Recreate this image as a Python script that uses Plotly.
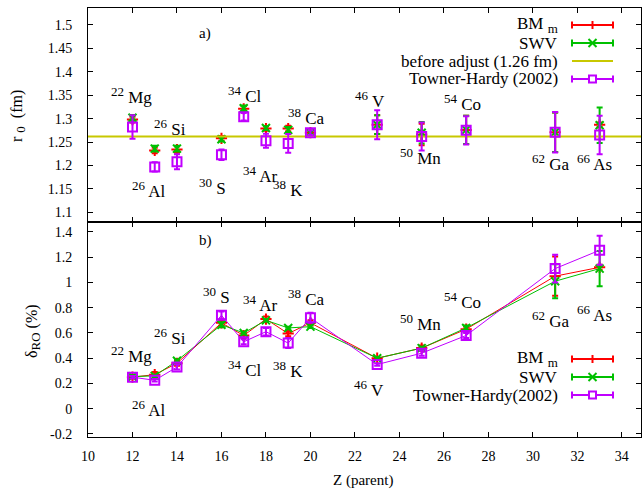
import plotly.graph_objects as go
from plotly.subplots import make_subplots

# ---------------- data ----------------
Z = [12, 13, 14, 16, 17, 18, 19, 20, 23, 25, 27, 31, 33]
nuclide_mass = ["22", "26", "26", "30", "34", "34", "38", "38", "46", "50", "54", "62", "66"]
nuclide_sym = ["Mg", "Al", "Si", "S", "Cl", "Ar", "K", "Ca", "V", "Mn", "Co", "Ga", "As"]

# panel a) r0 (fm)
r0_BM = [1.298, 1.232, 1.234, 1.258, 1.321, 1.279, 1.279, 1.270, 1.287, 1.266, 1.276, 1.271, 1.287]
r0_BM_err = [0.006, 0.006, 0.007, 0.005, 0.006, 0.005, 0.006, 0.004, 0.020, 0.023, 0.030, 0.042, 0.005]
r0_SWV = [1.302, 1.236, 1.236, 1.256, 1.322, 1.280, 1.276, 1.270, 1.287, 1.270, 1.276, 1.271, 1.286]
r0_SWV_err = [0.006, 0.006, 0.006, 0.005, 0.006, 0.004, 0.006, 0.004, 0.020, 0.023, 0.030, 0.042, 0.038]
r0_TH = [1.282, 1.197, 1.208, 1.223, 1.304, 1.253, 1.247, 1.270, 1.287, 1.262, 1.275, 1.271, 1.265]
r0_TH_err = [0.025, 0.010, 0.016, 0.011, 0.008, 0.015, 0.020, 0.005, 0.031, 0.030, 0.030, 0.043, 0.041]
r0_before = 1.262

# panel b) delta_RO (%)
d_BM = [0.25, 0.27, 0.36, 0.68, 0.58, 0.71, 0.595, 0.68, 0.40, 0.48, 0.63, 1.05, 1.12]
d_BM_err = [0.01, 0.02, 0.02, 0.02, 0.02, 0.02, 0.02, 0.02, 0.01, 0.02, 0.02, 0.155, 0.02]
d_SWV = [0.255, 0.26, 0.38, 0.665, 0.60, 0.70, 0.64, 0.65, 0.40, 0.48, 0.64, 1.01, 1.11]
d_SWV_err = [0.01, 0.01, 0.01, 0.02, 0.01, 0.01, 0.01, 0.01, 0.01, 0.01, 0.02, 0.135, 0.14]
d_TH = [0.25, 0.225, 0.33, 0.74, 0.53, 0.61, 0.52, 0.72, 0.35, 0.44, 0.58, 1.11, 1.255]
d_TH_err = [0.01, 0.01, 0.02, 0.03, 0.02, 0.03, 0.04, 0.04, 0.01, 0.02, 0.02, 0.11, 0.115]

# label positions (data coords) for nuclide names
lab_a_x = [11.95, 12.75, 13.67, 15.58, 17.05, 17.74, 18.98, 19.8, 22.68, 24.93, 26.82, 30.82, 32.77]
lab_a_y = [1.350, 1.148, 1.281, 1.155, 1.351, 1.180, 1.152, 1.304, 1.340, 1.219, 1.334, 1.206, 1.206]
lab_b_x = [11.95, 12.75, 13.67, 15.76, 17.05, 17.74, 19.0, 19.8, 22.64, 24.93, 26.82, 30.82, 32.77]
lab_b_y = [0.426, 0.0, 0.573, 0.893, 0.32, 0.834, 0.31, 0.88, 0.16, 0.68, 0.86, 0.706, 0.754]

X_RANGE = [10, 34.86]
YA_RANGE = [1.0795, 1.536]
YB_RANGE = [-0.224, 1.479]
x_ticks = list(range(10, 35, 2))
ya_ticks = [1.1, 1.15, 1.2, 1.25, 1.3, 1.35, 1.4, 1.45, 1.5]
ya_ticktext = ["1.1", "1.15", "1.2", "1.25", "1.3", "1.35", "1.4", "1.45", "1.5"]
yb_ticks = [-0.2, 0, 0.2, 0.4, 0.6, 0.8, 1.0, 1.2, 1.4]
yb_ticktext = ["-0.2", "0", "0.2", "0.4", "0.6", "0.8", "1", "1.2", "1.4"]

RED = "#ff0000"
GREEN = "#00c000"
PURPLE = "#c000ff"
YELLOW = "#c8c800"
FONT = "Liberation Serif"

# ---------------- geometry ----------------
W, H = 642, 489
PL, PR, PT, PB = 88, 641, 8, 437
SEP = 222


def px(xp):
    return (xp - PL) / (PR - PL)


def py(yp):
    return (PB - yp) / (PB - PT)


fig = make_subplots(rows=2, cols=1, shared_xaxes=True, vertical_spacing=0,
                    row_heights=[SEP - PT, PB - SEP])


def err(e):
    return dict(type="data", array=e, visible=True, thickness=2, width=3)


# panel a
fig.add_trace(go.Scatter(x=Z, y=r0_BM, mode="markers", name="BM m",
                         marker=dict(symbol="cross-thin-open", size=8, color=RED, line=dict(color=RED, width=2)),
                         error_y=dict(err(r0_BM_err), color=RED)), row=1, col=1)
fig.add_trace(go.Scatter(x=Z, y=r0_SWV, mode="markers", name="SWV",
                         marker=dict(symbol="x-thin-open", size=8, color=GREEN, line=dict(color=GREEN, width=2)),
                         error_y=dict(err(r0_SWV_err), color=GREEN)), row=1, col=1)
fig.add_trace(go.Scatter(x=X_RANGE, y=[r0_before, r0_before], mode="lines", name="before adjust (1.26 fm)",
                         line=dict(color=YELLOW, width=2)), row=1, col=1)
fig.add_trace(go.Scatter(x=Z, y=r0_TH, mode="markers", name="Towner-Hardy (2002)",
                         marker=dict(symbol="square-open", size=9, color=PURPLE, line=dict(color=PURPLE, width=2)),
                         error_y=dict(err(r0_TH_err), color=PURPLE)), row=1, col=1)

# panel b
fig.add_trace(go.Scatter(x=Z, y=d_BM, mode="lines+markers", name="BM m",
                         line=dict(color=RED, width=1),
                         marker=dict(symbol="cross-thin-open", size=8, color=RED, line=dict(color=RED, width=2)),
                         error_y=dict(err(d_BM_err), color=RED)), row=2, col=1)
fig.add_trace(go.Scatter(x=Z, y=d_SWV, mode="lines+markers", name="SWV",
                         line=dict(color=GREEN, width=1),
                         marker=dict(symbol="x-thin-open", size=8, color=GREEN, line=dict(color=GREEN, width=2)),
                         error_y=dict(err(d_SWV_err), color=GREEN)), row=2, col=1)
fig.add_trace(go.Scatter(x=Z, y=d_TH, mode="lines+markers", name="Towner-Hardy(2002)",
                         line=dict(color=PURPLE, width=1),
                         marker=dict(symbol="square-open", size=9, color=PURPLE, line=dict(color=PURPLE, width=2)),
                         error_y=dict(err(d_TH_err), color=PURPLE)), row=2, col=1)

axis_common = dict(showline=True, linecolor="black", linewidth=1, mirror="ticks",
                   ticks="inside", ticklen=5, tickcolor="black", tickwidth=1,
                   showgrid=False, zeroline=False,
                   tickfont=dict(family=FONT, size=14, color="black"))

fig.update_xaxes(range=X_RANGE, tickvals=x_ticks, **axis_common)
fig.update_xaxes(showticklabels=False, row=1, col=1)
fig.update_xaxes(ticklabelstandoff=6, row=2, col=1)
fig.update_yaxes(range=YA_RANGE, tickvals=ya_ticks, ticktext=ya_ticktext, ticklabelstandoff=12,
                 row=1, col=1, **axis_common)
fig.update_yaxes(range=YB_RANGE, tickvals=yb_ticks, ticktext=yb_ticktext, ticklabelstandoff=12,
                 row=2, col=1, **axis_common)

annots = []
for i in range(len(Z)):
    label = "<sup><span style='font-size:13px'>%s</span></sup> %s" % (nuclide_mass[i], nuclide_sym[i])
    annots.append(dict(x=lab_a_x[i], y=lab_a_y[i], xref="x", yref="y", text=label, showarrow=False,
                       xanchor="center", yanchor="middle", font=dict(family=FONT, size=17, color="black")))
    annots.append(dict(x=lab_b_x[i], y=lab_b_y[i], xref="x2", yref="y2", text=label, showarrow=False,
                       xanchor="center", yanchor="middle", font=dict(family=FONT, size=17, color="black")))

annots.append(dict(x=px(205), y=py(34), xref="paper", yref="paper", text="a)", showarrow=False,
                   xanchor="center", yanchor="middle", font=dict(family=FONT, size=15, color="black")))
annots.append(dict(x=px(205), y=py(241), xref="paper", yref="paper", text="b)", showarrow=False,
                   xanchor="center", yanchor="middle", font=dict(family=FONT, size=15, color="black")))

# axis titles
annots.append(dict(x=px(18), y=py(116), xref="paper", yref="paper",
                   text="r <sub><span style='font-size:13px'>0</span></sub>  (fm)",
                   textangle=-90, showarrow=False, xanchor="center", yanchor="middle",
                   font=dict(family=FONT, size=16, color="black")))
annots.append(dict(x=px(33), y=py(331), xref="paper", yref="paper",
                   text="δ<sub><span style='font-size:13px'>RO</span></sub> (%)",
                   textangle=-90, showarrow=False, xanchor="center", yanchor="middle",
                   font=dict(family=FONT, size=16, color="black")))
annots.append(dict(x=px(363), y=py(480), xref="paper", yref="paper", text="Z (parent)",
                   showarrow=False, xanchor="center", yanchor="middle",
                   font=dict(family=FONT, size=15, color="black")))

# custom legends (gnuplot style: text left, sample on the right)
shapes = []
SX0, SX1 = 572, 613
SXM = (SX0 + SX1) / 2


def sample(yp, color, marker):
    shapes.append(dict(type="line", xref="paper", yref="paper", x0=px(SX0), x1=px(SX1), y0=py(yp), y1=py(yp),
                       line=dict(color=color, width=2)))
    if marker is None:
        return
    for xx in (SX0, SX1):
        shapes.append(dict(type="line", xref="paper", yref="paper", x0=px(xx), x1=px(xx), y0=py(yp - 3.5),
                           y1=py(yp + 3.5), line=dict(color=color, width=2)))
    if marker == "+":
        shapes.append(dict(type="line", xref="paper", yref="paper", x0=px(SXM), x1=px(SXM), y0=py(yp - 4),
                           y1=py(yp + 4), line=dict(color=color, width=2)))
    elif marker == "x":
        shapes.append(dict(type="line", xref="paper", yref="paper", x0=px(SXM - 4), x1=px(SXM + 4),
                           y0=py(yp - 4), y1=py(yp + 4), line=dict(color=color, width=2)))
        shapes.append(dict(type="line", xref="paper", yref="paper", x0=px(SXM - 4), x1=px(SXM + 4),
                           y0=py(yp + 4), y1=py(yp - 4), line=dict(color=color, width=2)))
    elif marker == "s":
        shapes.append(dict(type="rect", xref="paper", yref="paper", x0=px(SXM - 3.5), x1=px(SXM + 3.5),
                           y0=py(yp - 3.5), y1=py(yp + 3.5), line=dict(color=color, width=2),
                           fillcolor="white"))


def legend_text(yp, text):
    annots.append(dict(x=px(560), y=py(yp), xref="paper", yref="paper", text=text, showarrow=False,
                       xanchor="right", yanchor="middle", font=dict(family=FONT, size=17, color="black")))


leg_a = [("BM <sub><span style='font-size:13px'>m</span></sub>", RED, "+"), ("SWV", GREEN, "x"),
         ("before adjust (1.26 fm)", YELLOW, None), ("Towner-Hardy (2002)", PURPLE, "s")]
for k, (t, c, m) in enumerate(leg_a):
    yp = 25 + 18 * k
    legend_text(yp, t)
    sample(yp, c, m)

leg_b = [("BM <sub><span style='font-size:13px'>m</span></sub>", RED, "+"), ("SWV", GREEN, "x"),
         ("Towner-Hardy(2002)", PURPLE, "s")]
for k, (t, c, m) in enumerate(leg_b):
    yp = 359 + 18 * k
    legend_text(yp, t)
    sample(yp, c, m)

fig.update_layout(width=W, height=H, margin=dict(l=PL, r=W - PR, t=PT, b=H - PB),
                  paper_bgcolor="white", plot_bgcolor="white", showlegend=False,
                  annotations=annots, shapes=shapes,
                  font=dict(family=FONT, size=14, color="black"))

fig.write_html("out.html")
